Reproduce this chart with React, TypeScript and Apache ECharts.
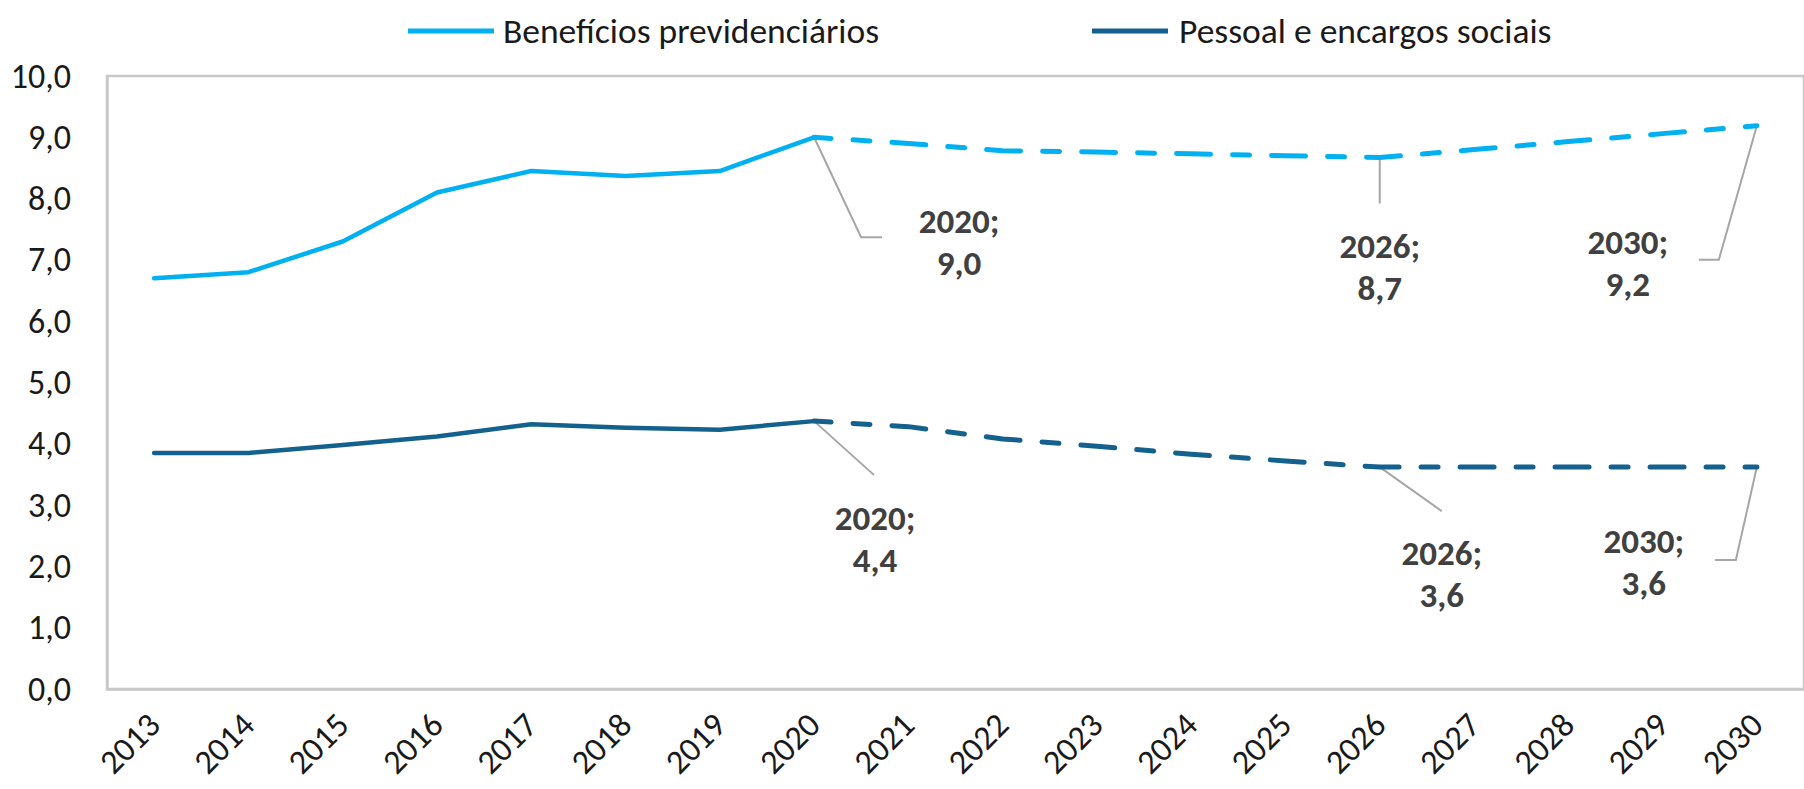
import React, { useEffect, useRef } from "react";
import * as echarts from "echarts";

const years = ["2013","2014","2015","2016","2017","2018","2019","2020","2021","2022","2023","2024","2025","2026","2027","2028","2029","2030"];
// Benefícios previdenciários (% PIB)
const benHist = [6.7, 6.8, 7.3, 8.1, 8.45, 8.37, 8.45, 9.0]; // 2013-2020
const benProj = [9.0, 8.9, 8.78, 8.76, 8.73, 8.7, 8.67, 8.8, 8.93, 9.06, 9.19]; // 2020-2030
// Pessoal e encargos sociais (% PIB)
const pesHist = [3.85, 3.85, 3.98, 4.12, 4.32, 4.26, 4.23, 4.37]; // 2013-2020
const pesProj = [4.37, 4.28, 4.08, 3.96, 3.83, 3.72, 3.62, 3.62, 3.62, 3.62, 3.62]; // 2020-2030

const yTicks = [0, 1, 2, 3, 4, 5, 6, 7, 8, 9, 10];
const annotatedYears = ["2020", "2026", "2030"];

const BEN = "Benefícios previdenciários";
const PES = "Pessoal e encargos sociais";
const LIGHT = "#00b0f0";
const DARK = "#14618e";
const FONT = "Carlito, Lato, sans-serif";

const fmt = (v: number) => v.toFixed(1).replace(".", ",");

// layout of leader lines / labels (pixel offsets relative to the data point)
const annLayout: Record<string, { line: number[][]; label: number[] }> = {
  "ben-2020": { line: [[0, 0], [47, 100], [68, 100]], label: [145, 105] },
  "ben-2026": { line: [[0, 0], [0, 46]], label: [0, 109] },
  "ben-2030": { line: [[0, 0], [-38, 134], [-58, 134]], label: [-129, 137] },
  "pes-2020": { line: [[0, 0], [60, 54]], label: [61, 118] },
  "pes-2026": { line: [[0, 0], [62, 44]], label: [62, 107] },
  "pes-2030": { line: [[0, 0], [-21, 93], [-42, 93]], label: [-113, 95] },
};

export default function App() {
  const ref = useRef<HTMLDivElement>(null);
  useEffect(() => {
    if (!ref.current) return;
    const chart = echarts.init(ref.current, null, { renderer: "svg" });
    const pad = (arr: number[], before: number, total: number) => {
      const out: (number | null)[] = [];
      for (let i = 0; i < before; i++) out.push(null);
      arr.forEach((v) => out.push(v));
      while (out.length < total) out.push(null);
      return out;
    };
    const n = years.length;
    const histLen = benHist.length;
    const projStart = histLen - 1;
    const benFull = pad(benHist, 0, n);
    const benP = pad(benProj, projStart, n);
    const pesFull = pad(pesHist, 0, n);
    const pesP = pad(pesProj, projStart, n);

    const dash = [34, 22, 17, 22];
    const legendText = { fontFamily: FONT, fontSize: 35.5, color: "#1a1a1a", lineHeight: 40 };
    const option: any = {
      animation: false,
      legend: [
        {
          data: [BEN],
          left: 403,
          top: 6,
          icon: "rect",
          itemWidth: 86,
          itemHeight: 5,
          textStyle: { ...legendText, padding: [0, 0, 0, 4] },
        },
        {
          data: [PES],
          left: 1087,
          top: 6,
          icon: "rect",
          itemWidth: 76,
          itemHeight: 5,
          textStyle: { ...legendText, padding: [0, 0, 0, 6] },
        },
      ],
      grid: {
        left: 107,
        top: 76,
        width: 1708,
        height: 613,
        show: true,
        borderColor: "#c8c8c8",
        borderWidth: 2.5,
      },
      xAxis: {
        type: "category",
        data: years,
        boundaryGap: true,
        axisLine: { show: true, lineStyle: { color: "#c8c8c8", width: 2.5 } },
        axisTick: { show: false },
        axisLabel: {
          rotate: 45,
          margin: 30,
          fontFamily: FONT,
          fontSize: 34,
          color: "#1a1a1a",
        },
      },
      yAxis: {
        type: "value",
        min: yTicks[0],
        max: yTicks[yTicks.length - 1],
        interval: 1,
        splitLine: { show: false },
        axisLine: { show: true, lineStyle: { color: "#c8c8c8", width: 2.5 } },
        axisTick: { show: false },
        axisLabel: {
          margin: 36,
          fontFamily: FONT,
          fontSize: 34,
          color: "#1a1a1a",
          formatter: (v: number) => fmt(v),
        },
      },
      series: [
        {
          name: BEN,
          type: "line",
          data: benFull,
          symbol: "none",
          lineStyle: { color: LIGHT, width: 4.5, join: "round", cap: "round" },
          itemStyle: { color: LIGHT },
          z: 3,
        },
        {
          name: BEN + " (projeção)",
          type: "line",
          data: benP,
          symbol: "none",
          lineStyle: { color: LIGHT, width: 5, type: dash, dashOffset: 17, cap: "round", join: "round" },
          itemStyle: { color: LIGHT },
          z: 3,
        },
        {
          name: PES,
          type: "line",
          data: pesFull,
          symbol: "none",
          lineStyle: { color: DARK, width: 4.5, join: "round", cap: "round" },
          itemStyle: { color: DARK },
          z: 3,
        },
        {
          name: PES + " (projeção)",
          type: "line",
          data: pesP,
          symbol: "none",
          lineStyle: { color: DARK, width: 5, type: dash, dashOffset: 17, cap: "round", join: "round" },
          itemStyle: { color: DARK },
          z: 3,
        },
      ],
    };
    chart.setOption(option);

    const graphics: any[] = [];
    const addAnn = (key: string, seriesFull: (number | null)[], seriesProj: (number | null)[], year: string) => {
      const idx = years.indexOf(year);
      const v = (seriesFull[idx] ?? seriesProj[idx]) as number;
      const p = chart.convertToPixel({ xAxisIndex: 0, yAxisIndex: 0 }, [idx, v]) as number[];
      const lay = annLayout[key + "-" + year];
      graphics.push({
        type: "polyline",
        shape: { points: lay.line.map(([dx, dy]) => [p[0] + dx, p[1] + dy]) },
        style: { stroke: "#a6a6a6", lineWidth: 2, fill: null },
        z: 2,
      });
      graphics.push({
        type: "text",
        x: p[0] + lay.label[0],
        y: p[1] + lay.label[1],
        style: {
          text: year + ";\n" + fmt(v),
          fontFamily: FONT,
          fontSize: 35,
          fontWeight: "bold",
          fill: "#404040",
          align: "center",
          verticalAlign: "middle",
          lineHeight: 42,
        },
        z: 4,
      });
    };
    annotatedYears.forEach((y) => addAnn("ben", benFull, benP, y));
    annotatedYears.forEach((y) => addAnn("pes", pesFull, pesP, y));
    chart.setOption({ graphic: graphics });

    return () => chart.dispose();
  }, []);
  return (
    <div
      ref={ref}
      style={{ position: "absolute", left: 0, top: 0, width: 1804, height: 789, background: "#fff" }}
    />
  );
}
